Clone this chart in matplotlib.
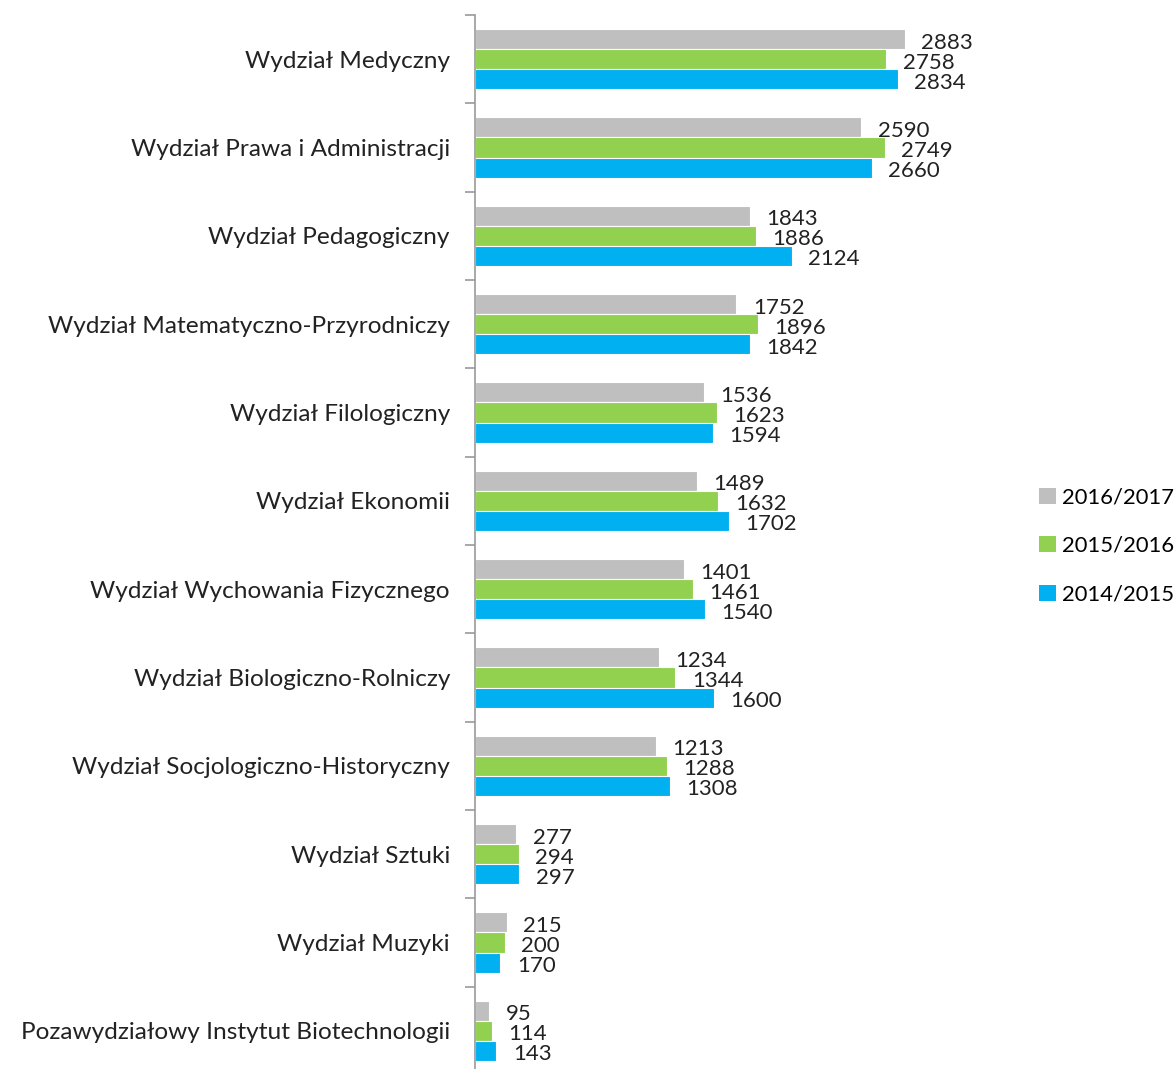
import matplotlib
matplotlib.use("Agg")
import matplotlib.pyplot as plt
from matplotlib.patches import Patch
import numpy as np

categories = [
    "Wydział Medyczny",
    "Wydział Prawa i Administracji",
    "Wydział Pedagogiczny",
    "Wydział Matematyczno-Przyrodniczy",
    "Wydział Filologiczny",
    "Wydział Ekonomii",
    "Wydział Wychowania Fizycznego",
    "Wydział Biologiczno-Rolniczy",
    "Wydział Socjologiczno-Historyczny",
    "Wydział Sztuki",
    "Wydział Muzyki",
    "Pozawydziałowy Instytut Biotechnologii",
]
series_names = ["2016/2017", "2015/2016", "2014/2015"]
v_2016_2017 = [2883, 2590, 1843, 1752, 1536, 1489, 1401, 1234, 1213, 277, 215, 95]
v_2015_2016 = [2758, 2749, 1886, 1896, 1623, 1632, 1461, 1344, 1288, 294, 200, 114]
v_2014_2015 = [2834, 2660, 2124, 1842, 1594, 1702, 1540, 1600, 1308, 297, 170, 143]
colors = ["#BFBFBF", "#92D050", "#00B0F0"]

plt.rcParams['font.family'] = ['Lato', 'DejaVu Sans']

fig = plt.figure(figsize=(11.76, 10.69), dpi=100)
ax = fig.add_axes([475/1176, -6/1069, 522/1176, 1060/1069])

n = len(categories)
y = np.arange(n)
bh = 0.227
series = [v_2016_2017, v_2015_2016, v_2014_2015]
for i, (vals, c) in enumerate(zip(series, colors)):
    pos = y + (i - 1) * bh
    ax.barh(pos, vals, height=bh, color=c, edgecolor="white", linewidth=0.8, label=series_names[i])
    for p, v in zip(pos, vals):
        ax.text(v + 110, p + 0.04, str(v), va="center", ha="left", fontsize=16, color="#222222")

ax.set_ylim(n - 0.5, -0.5)
ax.set_xlim(0, 3500)
ax.set_yticks(y)
ax.set_yticklabels(categories, fontsize=17.6, color="#222222")
ax.tick_params(axis="y", which="major", length=0, pad=18)
ax.set_yticks(np.arange(-0.5, n, 1.0), minor=True)
ax.tick_params(axis="y", which="minor", length=7, width=1.2, color="#999999", direction="out")
ax.set_xticks([])
for s in ["top", "right", "bottom"]:
    ax.spines[s].set_visible(False)
ax.spines["left"].set_color("#999999")
ax.spines["left"].set_linewidth(1.2)

handles = [Patch(facecolor=c, edgecolor="none") for c in colors]
fig.legend(handles, series_names, loc="center left", bbox_to_anchor=(1035/1176, 1 - 546/1069),
           frameon=False, fontsize=15.8, handlelength=0.75, handleheight=0.75,
           handletextpad=0.3, labelspacing=1.3, borderpad=0.2, borderaxespad=0)

fig.savefig("out.png", dpi=100)
